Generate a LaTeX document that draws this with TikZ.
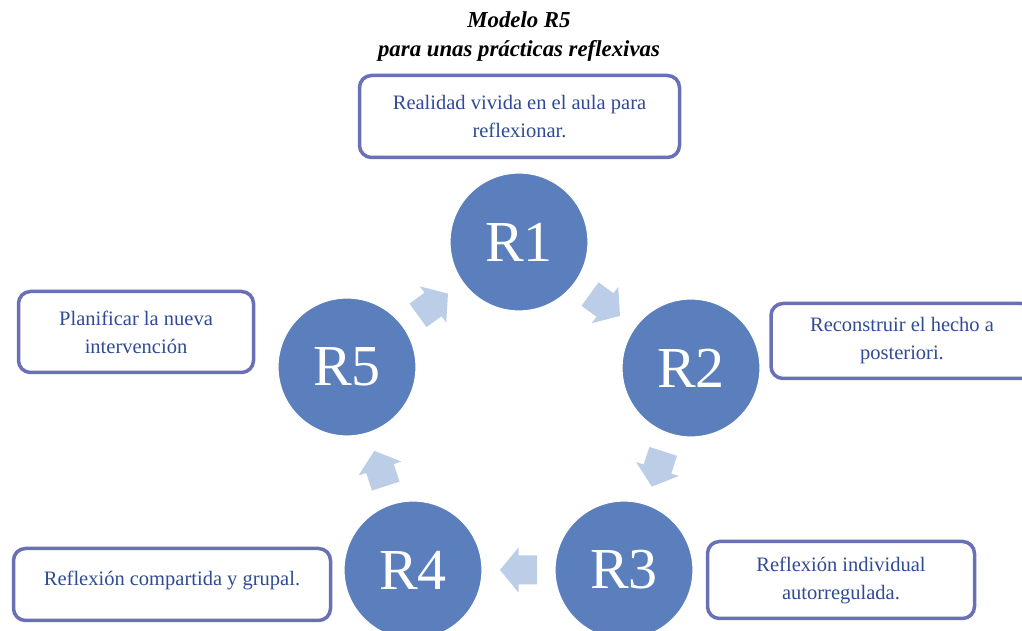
\documentclass[tikz,border=0pt]{standalone}
\usepackage{fontspec}
\setmainfont{Liberation Serif}
\usetikzlibrary{calc}
\definecolor{circ}{HTML}{5B7EBD}
\definecolor{arr}{HTML}{BCCDE7}
\definecolor{bord}{HTML}{6970B6}
\definecolor{txt}{HTML}{2F4B93}
\begin{document}
\begin{tikzpicture}[x=1pt,y=1pt,
  rc/.style={circle, fill=circ, draw=white, line width=1.2pt, minimum size=138pt, inner sep=0pt, text=white, font=\fontsize{58}{60}\selectfont},
  tb/.style={draw=bord, line width=3.5pt, rounded corners=12pt, fill=white, text=txt, align=center, font=\fontsize{20.5}{28}\selectfont, inner sep=0pt},
  blockarrow/.pic={\fill[arr] (-18.5,-14.5) -- (0,-14.5) -- (0,-22.5) -- (18.5,0) -- (0,22.5) -- (0,14.5) -- (-18.5,14.5) -- cycle;}
  ]
\useasboundingbox (0,0) rectangle (1022,631);
\clip (0,0) rectangle (1022,631);
\fill[white] (0,0) rectangle (1022,631);

\node[align=center, font=\bfseries\itshape\fontsize{22.8}{29}\selectfont] (title) at (519,594) {Modelo R5\\para unas prácticas reflexivas};

\node[tb, minimum width=320pt, minimum height=82pt] (b1) at (519.5,514.5) {Realidad vivida en el aula para\\reflexionar.};
\node[tb, minimum width=262pt, minimum height=75pt] (b2) at (902,290) {Reconstruir el hecho a\\posteriori.};
\node[tb, minimum width=235pt, minimum height=81pt] (b5) at (136,299) {Planificar la nueva\\intervención};
\node[tb, minimum width=317pt, minimum height=72pt] (b4) at (172,46.5) {\raisebox{12pt}{Reflexión compartida y grupal.}};
\node[tb, minimum width=267pt, minimum height=77pt] (b3) at (841,51) {Reflexión individual\\autorregulada.};

\node[rc] (r1) at (519,389) {R1};
\node[rc] (r2) at (691,263) {R2};
\node[rc] (r3) at (624,61) {R3};
\node[rc] (r4) at (413,61) {R4};
\node[rc] (r5) at (347,264) {R5};

\path ($(r1)!0.5!(r2)$) pic[rotate=-36]{blockarrow};
\path ($(r2)!0.5!(r3)$) pic[rotate=-108]{blockarrow};
\path ($(r3)!0.5!(r4)$) pic[rotate=180]{blockarrow};
\path ($(r4)!0.5!(r5)$) pic[rotate=108]{blockarrow};
\path ($(r5)!0.5!(r1)$) pic[rotate=36]{blockarrow};
\end{tikzpicture}
\end{document}
